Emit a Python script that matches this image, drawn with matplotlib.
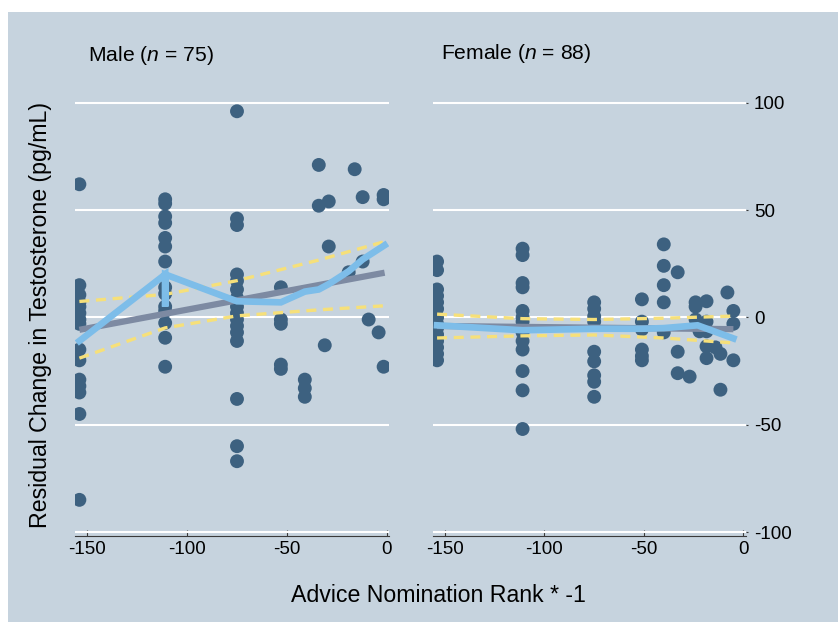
import matplotlib
matplotlib.use("Agg")
import matplotlib.pyplot as plt
from matplotlib.patches import Rectangle

plt.rcParams["font.family"] = ["Liberation Sans", "DejaVu Sans"]
plt.rcParams["mathtext.fontset"] = "custom"
plt.rcParams["mathtext.rm"] = "Liberation Sans"
plt.rcParams["mathtext.it"] = "Liberation Sans:italic"
plt.rcParams["axes.unicode_minus"] = False

BG = "#c6d3de"
DOT = "#3d6180"
LOWESS = "#7dbde9"
FIT = "#7d8aa2"
CI = "#f6e07a"

# ---- male data (x = advice nomination rank * -1, y = residual change) ----
male_x = ([-154] * 15 + [-111] * 14 + [-75] * 16 + [-53] * 5 + [-41] * 3
          + [-34] * 2 + [-31] + [-29] * 2 + [-19] + [-16] + [-12] * 2
          + [-9] + [-4] + [-1.5] * 3)
male_y = ([62, 15, 10.5, 7, 5, 2, -1, -3, -15, -20, -29, -32, -35, -45, -85]
          + [55, 53, 47, 44, 37, 33, 26, 14, 11, 5, 3, -2.6, -9.5, -23]
          + [96, 46, 43, 20, 17, 13, 9, 5, 2, -1, -4, -7, -11, -38, -60, -67]
          + [14, -1, -3, -22, -24]
          + [-29, -33, -37]
          + [71, 52]
          + [-13]
          + [54, 33]
          + [21]
          + [69]
          + [56, 26]
          + [-1]
          + [-7]
          + [57, 55, -23])

male_lowess_x = [-154, -111, -111, -111, -75, -53, -41, -34, -29, -19, -12, -1]
male_lowess_y = [-11, 20, 5, 20, 7.5, 7, 12, 13, 15.5, 21.5, 27, 33.6]
male_fit_x = [-154, -1]
male_fit_y = [-5.8, 20.8]
male_ci_x = [-154, -111, -75, -34, -1]
male_ci_hi = [7.4, 10.7, 17.1, 26.7, 35.3]
male_ci_lo = [-19, -4.9, 0.7, 3.5, 5.4]

# ---- female data ----
female_x = ([-154] * 14 + [-111] * 13 + [-75] * 9 + [-51] * 6 + [-40] * 5
            + [-33] * 3 + [-27] + [-24] * 3 + [-22] + [-18.5] * 5 + [-14]
            + [-11.5] * 2 + [-8] + [-5] * 3)
female_y = ([26, 22, 13, 10, 7, 4, 0, -3, -5, -8, -11, -14, -17, -20]
            + [32, 29, 16, 14, 3, 0, -2, -7, -11, -15, -25, -34, -52]
            + [7, 4, 0.5, -2, -16, -20.5, -27, -30, -37]
            + [8.4, -2, -5.6, -15, -18, -20]
            + [34, 24, 15, 7, -7]
            + [21, -16, -26]
            + [-27.6]
            + [7, 5, -1]
            + [-6.5]
            + [7.5, -2, -6.5, -13.5, -19]
            + [-14]
            + [-17, -33.7]
            + [11.6]
            + [3, -3, -20])

female_lowess_x = [-154, -111, -75, -51, -40, -23, -5]
female_lowess_y = [-3.7, -6, -5.3, -5.3, -5, -3.7, -9.8]
female_fit_x = [-154, -5]
female_fit_y = [-4, -5.5]
female_ci_x = [-154, -111, -75, -40, -5]
female_ci_hi = [1.5, -0.6, -1.0, -0.4, 0.6]
female_ci_lo = [-9.6, -8.6, -8.2, -9.6, -11.9]

yticks = [-100, -50, 0, 50, 100]
xticks = [-150, -100, -50, 0]

W, H = 838, 622
fig = plt.figure(figsize=(W / 100, H / 100), dpi=100)
fig.patch.set_facecolor("white")
fig.patches.append(Rectangle((8 / W, 0), 1, (H - 12) / H, transform=fig.transFigure,
                             facecolor=BG, edgecolor="none", zorder=-10))

bottom = (H - 535.7) / H
height = (535.7 - 89.8) / H
ax_m = fig.add_axes([75 / W, bottom, 314 / W, height])
ax_f = fig.add_axes([432.7 / W, bottom, 313 / W, height])

panels = [
    (ax_m, male_x, male_y, male_lowess_x, male_lowess_y, male_fit_x, male_fit_y,
     male_ci_x, male_ci_hi, male_ci_lo),
    (ax_f, female_x, female_y, female_lowess_x, female_lowess_y, female_fit_x,
     female_fit_y, female_ci_x, female_ci_hi, female_ci_lo),
]

for ax, px, py, lx, ly, fx, fy, cx, chi, clo in panels:
    ax.set_facecolor("none")
    ax.set_xlim(-156.2, 1.2)
    ax.set_ylim(-101.7, 106)
    ax.set_axisbelow(True)
    ax.grid(axis="y", color="white", linewidth=1.5)
    ax.scatter(px, py, s=100, color=DOT, edgecolors="none", zorder=2)
    ax.plot(cx, chi, color=CI, lw=2.4, dashes=(3, 2), zorder=3)
    ax.plot(cx, clo, color=CI, lw=2.4, dashes=(3, 2), zorder=3)
    ax.plot(fx, fy, color=FIT, lw=4.5, solid_capstyle="butt", zorder=4)
    ax.plot(lx, ly, color=LOWESS, lw=4.8, solid_joinstyle="miter", zorder=5)
    for s in ["top", "left", "right"]:
        ax.spines[s].set_visible(False)
    ax.spines["bottom"].set_color("#3a3a3a")
    ax.spines["bottom"].set_linewidth(0.8)
    ax.set_xticks(xticks)
    ax.set_yticks(yticks)
    ax.tick_params(axis="x", direction="in", length=4.5, width=0.8,
                   color="#3a3a3a", labelsize=13.5, pad=4)

ax_m.tick_params(axis="y", length=0, labelleft=False)
ax_f.yaxis.tick_right()
ax_f.tick_params(axis="y", length=1.5, width=0.8, color="#3a3a3a",
                 labelsize=13.5, pad=4.5)

fig.text(88 / W, 1 - 61 / H, "Male ($n$ = 75)", fontsize=15.2, va="baseline")
fig.text(441 / W, 1 - 59 / H, "Female ($n$ = 88)", fontsize=15.2, va="baseline")
fig.text(438 / W, 1 - 595 / H, "Advice Nomination Rank * -1", fontsize=16.7,
         ha="center", va="center")
fig.text(41 / W, 1 - 315 / H, "Residual Change in Testosterone (pg/mL)",
         fontsize=16.7, rotation=90, ha="center", va="center")

fig.savefig("out.png", dpi=100, facecolor=fig.get_facecolor())
